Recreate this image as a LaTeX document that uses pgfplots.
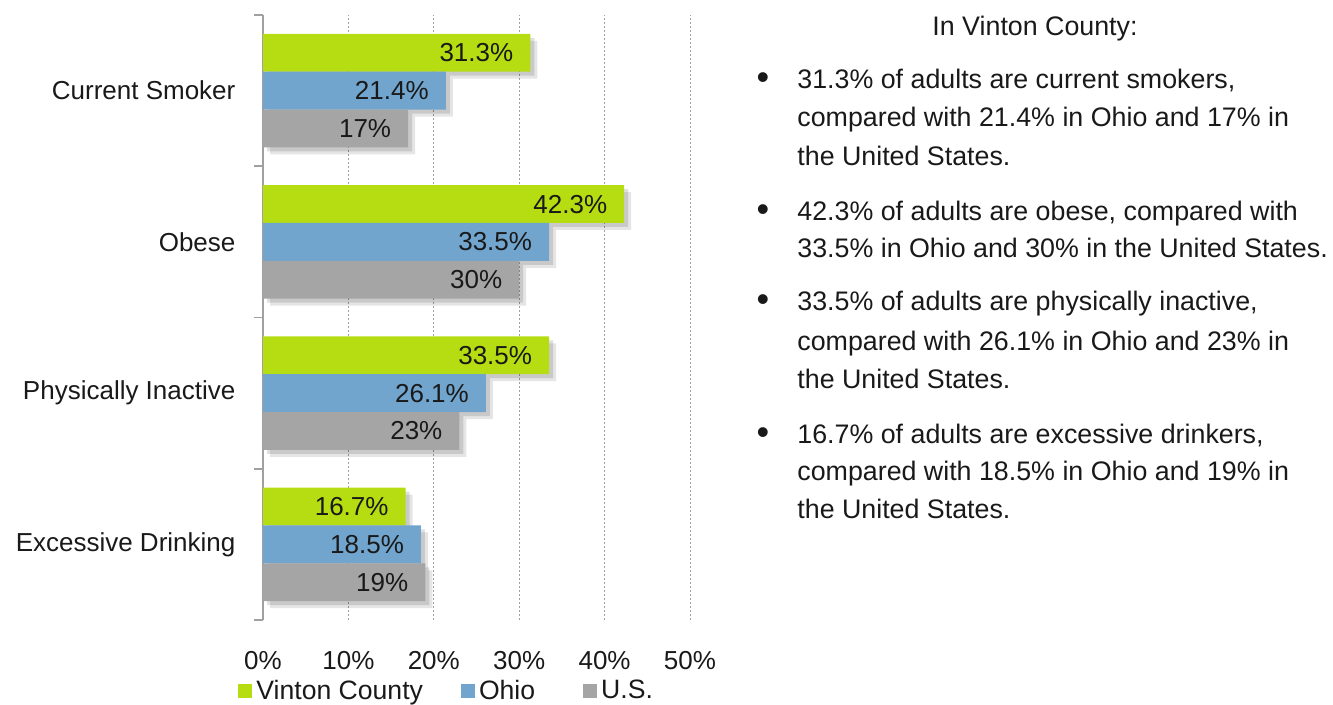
\documentclass[border=0pt]{standalone}
\usepackage{pgfplots}
\pgfplotsset{compat=1.18}
\usepackage{fontspec}
\setmainfont{Liberation Sans}
\definecolor{cgreen}{RGB}{181,221,18}
\definecolor{cblue}{RGB}{113,165,205}
\definecolor{cgray}{RGB}{165,165,165}
\definecolor{ctext}{RGB}{25,25,25}
\definecolor{axgray}{RGB}{160,160,160}
\pgfplotsset{/pgf/number format/assume math mode=true}
\begin{document}
\begin{tikzpicture}[x=1pt,y=1pt,font=\fontsize{13pt}{15.6pt}\selectfont, text=ctext]
\useasboundingbox (0,0) rectangle (666.5,352.5);
\begin{axis}[
  at={(131.5pt,42.5pt)}, anchor=south west,
  scale only axis, width=213.5pt, height=302.5pt,
  xmin=0, xmax=50, ymin=-0.5, ymax=3.5,
  xbar, bar width=0.25,
  axis lines*=left,
  axis line style={-},
  x axis line style={draw=none},
  y axis line style={draw=axgray, line width=0.8pt},
  xtick={0,10,20,30,40,50},
  xticklabel={\pgfmathprintnumber{\tick}\%},
  x tick style={draw=none},
  xticklabel style={yshift=-8pt},
  xmajorgrids=true,
  major grid style={draw=axgray, line width=0.4pt, dash pattern=on 1.2pt off 0.8pt},
  ytick={0,1,2,3},
  yticklabels={Excessive Drinking, Physically Inactive, Obese, Current Smoker},
  major y tick style={draw=none},
  minor ytick={-0.5,0.5,1.5,2.5,3.5},
  minor tick style={draw=axgray, line width=0.8pt},
  minor tick length=4.5pt,
  tick align=outside,
  yticklabel style={xshift=-6pt},
  point meta=x,
  legend columns=3,
  legend style={draw=none, fill=none, at={(-12.5pt,-35.5pt)}, anchor=west,
    inner sep=0pt, font=\fontsize{13.3pt}{15.6pt}\selectfont,
    /tikz/every even column/.append style={column sep=17pt}},
  legend cell align=left,
  legend image code/.code={\fill[#1] (0pt,-3.5pt) rectangle (7pt,3.5pt);},
  every node near coord/.append style={anchor=east, xshift=-5pt, text=ctext,
    font=\fontsize{13pt}{15.6pt}\selectfont},
]
% shadows
\addplot[forget plot, draw=none, fill=black, fill opacity=0.12, bar shift=0.25,
  transform canvas={xshift=2pt,yshift=-2pt}] coordinates {(16.7,0) (33.5,1) (42.3,2) (31.3,3)};
\addplot[forget plot, draw=none, fill=black, fill opacity=0.12, bar shift=0,
  transform canvas={xshift=2pt,yshift=-2pt}] coordinates {(18.5,0) (26.1,1) (33.5,2) (21.4,3)};
\addplot[forget plot, draw=none, fill=black, fill opacity=0.12, bar shift=-0.25,
  transform canvas={xshift=2pt,yshift=-2pt}] coordinates {(19,0) (23,1) (30,2) (17,3)};
\addplot[forget plot, draw=none, fill=black, fill opacity=0.10, bar shift=0.25,
  transform canvas={xshift=3.5pt,yshift=-3.5pt}] coordinates {(16.7,0) (33.5,1) (42.3,2) (31.3,3)};
\addplot[forget plot, draw=none, fill=black, fill opacity=0.10, bar shift=0,
  transform canvas={xshift=3.5pt,yshift=-3.5pt}] coordinates {(18.5,0) (26.1,1) (33.5,2) (21.4,3)};
\addplot[forget plot, draw=none, fill=black, fill opacity=0.10, bar shift=-0.25,
  transform canvas={xshift=3.5pt,yshift=-3.5pt}] coordinates {(19,0) (23,1) (30,2) (17,3)};
% bars
\addplot[draw=none, fill=cgreen, bar shift=0.25,
  nodes near coords={\pgfmathprintnumber{\pgfplotspointmeta}\%}]
  coordinates {(16.7,0) (33.5,1) (42.3,2) (31.3,3)};
\addplot[draw=none, fill=cblue, bar shift=0,
  nodes near coords={\pgfmathprintnumber{\pgfplotspointmeta}\%}]
  coordinates {(18.5,0) (26.1,1) (33.5,2) (21.4,3)};
\addplot[draw=none, fill=cgray, bar shift=-0.25,
  nodes near coords={\pgfmathprintnumber{\pgfplotspointmeta}\%}]
  coordinates {(19,0) (23,1) (30,2) (17,3)};
\legend{Vinton County, Ohio\rule{5pt}{0pt}, U.S.}
\end{axis}
% right-hand text
\begin{scope}[font=\fontsize{13.4pt}{16pt}\selectfont]
\node[anchor=base] at (517.5,334.5) {In Vinton County:};
\foreach \y in {308,242,197,130.5} {\node[anchor=base, font=\fontsize{18pt}{18pt}\selectfont] at (381.5,\y-0.5) {•};}
\node[anchor=base west, inner sep=0pt] at (398.5,308) {31.3\% of adults are current smokers,};
\node[anchor=base west, inner sep=0pt] at (398.5,289) {compared with 21.4\% in Ohio and 17\% in};
\node[anchor=base west, inner sep=0pt] at (398.5,269.5) {the United States.};
\node[anchor=base west, inner sep=0pt] at (398.5,242) {42.3\% of adults are obese, compared with};
\node[anchor=base west, inner sep=0pt] at (398.5,223.5) {33.5\% in Ohio and 30\% in the United States.};
\node[anchor=base west, inner sep=0pt] at (398.5,197) {33.5\% of adults are physically inactive,};
\node[anchor=base west, inner sep=0pt] at (398.5,177) {compared with 26.1\% in Ohio and 23\% in};
\node[anchor=base west, inner sep=0pt] at (398.5,158) {the United States.};
\node[anchor=base west, inner sep=0pt] at (398.5,130.5) {16.7\% of adults are excessive drinkers,};
\node[anchor=base west, inner sep=0pt] at (398.5,112) {compared with 18.5\% in Ohio and 19\% in};
\node[anchor=base west, inner sep=0pt] at (398.5,93) {the United States.};
\end{scope}
\end{tikzpicture}
\end{document}
